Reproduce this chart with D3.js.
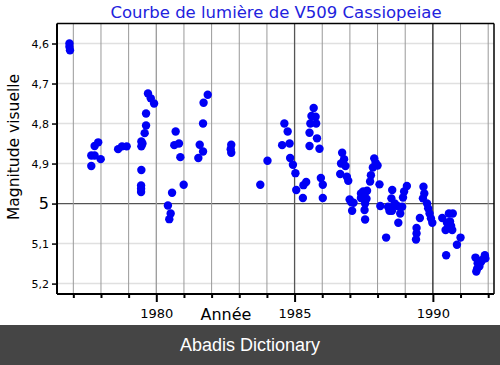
<!DOCTYPE html>
<html><head><meta charset="utf-8">
<script src="https://cdn.jsdelivr.net/npm/d3@7"></script>
<style>html,body{margin:0;padding:0;background:#fff;}svg{display:block;}</style>
</head><body>
<svg id="chart" width="500" height="365"></svg>
<script>
const title = "Courbe de lumière de V509 Cassiopeiae";
const xLabel = "Année";
const yLabel = "Magnitude visuelle";
const footer = "Abadis Dictionary";
const yTicks = [4.6, 4.7, 4.8, 4.9, 5, 5.1, 5.2];
const yTickLabels = ["4,6", "4,7", "4,8", "4,9", "5", "5,1", "5,2"];
const xTicks = [1977,1978,1979,1980,1981,1982,1983,1984,1985,1986,1987,1988,1989,1990,1991,1992];
const xMajor = [1980, 1985, 1990];
const years = [
1976.86,1976.86,1976.88,1977.65,1977.77,1977.65,1977.77,1977.90,1977.99,1978.62,1978.76,1978.93,
1979.46,1979.46,1979.50,1979.58,1979.63,1979.63,1979.70,1979.80,1979.92,1979.46,1979.45,1979.45,1979.45,
1980.42,1980.52,1980.47,1980.57,1980.70,1980.65,1980.82,1980.87,1980.99,
1981.52,1981.57,1981.69,1981.69,1981.71,1981.86,1982.71,1982.69,1982.71,1983.76,1984.02,
1984.55,1984.63,1984.75,1984.82,1984.84,1984.94,1985.03,1985.06,1985.30,1985.32,1985.42,
1985.54,1985.54,1985.57,1985.61,1985.69,1985.76,1985.78,1985.81,1985.90,1985.95,1986.02,1986.02,
1986.65,1986.68,1986.72,1986.79,1986.84,1986.89,1986.94,1986.99,1987.04,1987.13,1987.08,
1987.40,1987.48,1987.55,1987.62,1987.40,1987.52,1987.60,1987.55,1987.53,1987.55,
1987.73,1987.76,1987.83,1987.88,1987.93,1988.00,1988.07,1988.10,1988.31,1988.38,1988.43,1988.52,
1988.50,1988.53,1988.62,1988.72,1988.75,1988.82,1988.89,1988.92,1988.96,1989.06,
1989.39,1989.41,1989.41,1989.53,1989.64,1989.66,1989.69,1989.79,1989.83,1989.88,1989.93,1989.98,
1990.34,1990.46,1990.48,1990.51,1990.58,1990.72,1990.62,1990.66,1990.70,1990.87,1991.00,
1991.54,1991.62,1991.57,1991.60,1991.68,1991.74,1991.78,1991.88,1991.90];
const mags = [
4.600,4.608,4.617,4.880,4.880,4.906,4.856,4.847,4.889,4.864,4.857,4.857,
4.845,4.857,4.850,4.824,4.805,4.775,4.725,4.737,4.750,4.916,4.955,4.963,4.971,
5.005,5.025,5.039,4.973,4.820,4.854,4.850,4.884,4.953,
4.886,4.853,4.870,4.800,4.748,4.728,4.853,4.864,4.873,4.953,4.893,
4.854,4.800,4.820,4.850,4.886,4.903,4.924,4.966,4.986,4.954,4.946,
4.856,4.823,4.800,4.781,4.761,4.783,4.800,4.837,4.863,4.936,4.953,4.986,
4.926,4.900,4.873,4.889,4.906,4.933,4.943,4.990,4.996,4.998,5.018,
4.975,4.970,4.972,4.968,4.986,4.984,4.988,5.000,5.016,5.040,
4.945,4.929,4.910,4.887,4.898,4.905,4.952,5.006,5.085,5.008,5.018,5.018,
4.987,4.966,5.000,5.006,5.048,5.025,5.008,4.985,4.970,4.956,
5.090,5.075,5.061,5.036,4.987,4.958,4.975,5.000,5.012,5.025,5.037,5.048,
5.036,5.066,5.129,5.048,5.025,5.025,5.045,5.056,5.066,5.103,5.085,
5.135,5.149,5.170,5.163,5.157,5.146,5.141,5.129,5.137];

const svg = d3.select("#chart");
const L = 57, R = 494, T = 23.5, B = 294;
const x = d3.scaleLinear().domain([1976.41, 1992.21]).range([L, R]);
const y = d3.scaleLinear().domain([4.55, 5.226]).range([T, B]);

// horizontal grid
svg.append("g").selectAll("line").data(yTicks).join("line")
  .attr("x1", L).attr("x2", R).attr("y1", d => y(d)).attr("y2", d => y(d))
  .attr("stroke", d => d === 5 ? "#555" : "#e0e0e0").attr("stroke-width", d => d === 5 ? 1.3 : 1.5);
// vertical grid
svg.append("g").selectAll("line").data(xTicks).join("line")
  .attr("x1", d => x(d)).attr("x2", d => x(d)).attr("y1", T).attr("y2", B)
  .attr("stroke", d => d === 1990 ? "#222" : (d === 1985 ? "#555" : "#999"))
  .attr("stroke-width", d => xMajor.includes(d) ? 1.3 : 1);

// frame top & right
svg.append("line").attr("x1", L).attr("x2", R).attr("y1", T).attr("y2", T).attr("stroke", "#000").attr("stroke-width", 1.5);
svg.append("line").attr("x1", R).attr("x2", R).attr("y1", T).attr("y2", B).attr("stroke", "#000").attr("stroke-width", 1.5);

// points
svg.append("g").selectAll("circle").data(years.map((yr, i) => [yr, mags[i]])).join("circle")
  .attr("cx", d => x(d[0])).attr("cy", d => y(d[1])).attr("r", 4.2).attr("fill", "#0000f5");

// y axis
const yAxis = svg.append("g").attr("transform", `translate(${L},0)`)
  .call(d3.axisLeft(y).tickValues(yTicks).tickSize(5).tickPadding(3).tickFormat((d, i) => yTickLabels[i]));
yAxis.select(".domain").attr("stroke-width", 2).attr("d", `M0,${T}V${B}`);
yAxis.selectAll(".tick line").attr("stroke-width", 1.5);
yAxis.selectAll("text").attr("font-family", "DejaVu Sans").attr("font-size", d => d === 5 ? 16 : 11).attr("fill", "#000");

// x axis
const xAxis = svg.append("g").attr("transform", `translate(0,${B})`)
  .call(d3.axisBottom(x).tickValues(xTicks).tickSize(4).tickFormat(d => xMajor.includes(d) ? String(d) : ""));
xAxis.select(".domain").attr("stroke-width", 2).attr("d", `M${L},0H${R}`);
xAxis.selectAll(".tick line").attr("stroke-width", 2).attr("y2", d => xMajor.includes(d) ? 8 : 4);
xAxis.selectAll("text").attr("font-family", "DejaVu Sans").attr("font-size", 13).attr("fill", "#000").attr("y", 15);

// labels
svg.append("text").attr("x", 276).attr("y", 18).attr("text-anchor", "middle")
  .attr("font-family", "DejaVu Sans").attr("font-size", 16.5).attr("fill", "#2222dd").text(title);
svg.append("text").attr("x", 226).attr("y", 320).attr("text-anchor", "middle")
  .attr("font-family", "DejaVu Sans").attr("font-size", 16).attr("fill", "#000").text(xLabel);
svg.append("text").attr("transform", "translate(19,147) rotate(-90)").attr("text-anchor", "middle")
  .attr("font-family", "DejaVu Sans").attr("font-size", 15.5).attr("fill", "#000").text(yLabel);

// footer banner
svg.append("rect").attr("x", 0).attr("y", 325).attr("width", 500).attr("height", 40).attr("fill", "#454545");
svg.append("text").attr("x", 250).attr("y", 351).attr("text-anchor", "middle")
  .attr("font-family", "Liberation Sans, Arial, sans-serif").attr("font-size", 18).attr("fill", "#fff").text(footer);
</script>
</body></html>
